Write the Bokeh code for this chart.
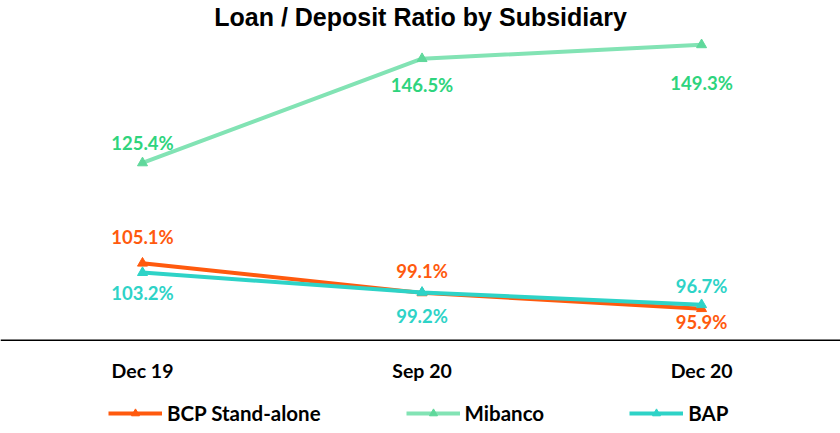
from bokeh.plotting import figure
from bokeh.models import Range1d, Legend, LegendItem, ColumnDataSource, LabelSet, Span
from bokeh.core.properties import value
from bokeh.embed import file_html
from bokeh.resources import INLINE

periods = ["Dec 19", "Sep 20", "Dec 20"]
bcp = [105.1, 99.1, 95.9]
mibanco = [125.4, 146.5, 149.3]
bap = [103.2, 99.2, 96.7]
series_names = ["BCP Stand-alone", "Mibanco", "BAP"]
axis_base = 89.5

line_colors = ["#FF5A0E", "#82E3B4", "#2ED3C7"]
marker_colors = ["#FF5A0E", "#5FD89B", "#2ED3C7"]
label_colors = ["#FF5A0E", "#2ED47D", "#2ED3C7"]
label_offsets = [[26, 22, -13], [20, -26, -38], [-20, -24, 19]]

p = figure(width=840, height=433, output_backend="svg", toolbar_location=None,
           x_range=Range1d(-0.508, 2.497), y_range=Range1d(70.64, 152.2),
           min_border_left=0, min_border_right=0, min_border_top=0, min_border_bottom=0)
p.title.text = "Loan / Deposit Ratio by Subsidiary"
p.title.align = "center"
p.title.text_font = "Liberation Sans"
p.title.text_font_size = "25px"
p.title.text_font_style = "bold"
p.title.text_color = "black"
p.title.standoff = 0
p.grid.visible = False
p.xaxis.visible = False
p.yaxis.visible = False
p.outline_line_color = None

# category axis baseline and period labels
p.add_layout(Span(location=axis_base, dimension="width", line_color="black", line_width=1.5))
xs = list(range(len(periods)))
p.text(x=xs, y=[axis_base] * len(xs), text=periods, y_offset=30,
       text_align="center", text_baseline="middle",
       text_font=value("Lato"), text_font_size="19.5px", text_font_style="bold",
       text_color="black")

order = [1, 0, 2]
renderers = {}
for k in order:
    vals = [bcp, mibanco, bap][k]
    src = ColumnDataSource(dict(x=xs, y=vals,
                                lab=["%.1f%%" % v for v in vals],
                                off=label_offsets[k]))
    ln = p.line("x", "y", source=src, line_color=line_colors[k], line_width=4)
    sc = p.scatter("x", "y", source=src, marker="triangle", size=10,
                   fill_color=marker_colors[k], line_color=marker_colors[k])
    ls = LabelSet(x="x", y="y", text="lab", y_offset="off", source=src,
                  text_align="center", text_baseline="middle",
                  text_font=value("Lato"), text_font_size=value("18.5px"),
                  text_font_style=value("bold"), text_color=value(label_colors[k]))
    p.add_layout(ls)
    renderers[k] = [ln, sc]

legend = Legend(items=[LegendItem(label=series_names[k], renderers=renderers[k]) for k in range(3)],
                orientation="horizontal", location=(108, 8), padding=0, margin=0,
                spacing=85, glyph_width=54, glyph_height=20, label_standoff=5,
                label_text_font="Lato", label_text_font_size="20.5px",
                label_text_font_style="bold", label_text_color="black",
                border_line_color=None, background_fill_alpha=0)
p.add_layout(legend)

open("out.html", "w").write(file_html(p, INLINE))
